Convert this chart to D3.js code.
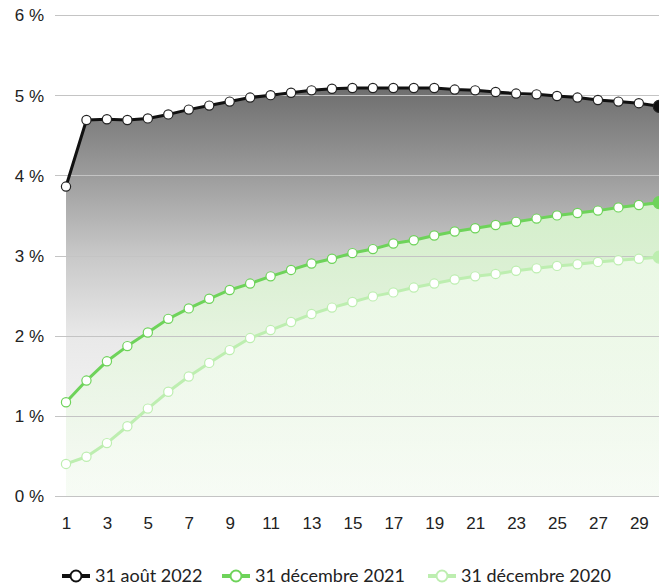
<!DOCTYPE html>
<html>
<head>
<meta charset="utf-8">
<script src="https://cdn.jsdelivr.net/npm/d3@7/dist/d3.min.js"></script>
<style>
  html, body { margin: 0; padding: 0; background: #fff; }
  svg { display: block; font-family: "Lato", "Noto Sans", sans-serif; }
</style>
</head>
<body>
<svg id="chart" width="659" height="585"></svg>
<script>
const maturities = d3.range(1, 31);
const xTickValues = [1,3,5,7,9,11,13,15,17,19,21,23,25,27,29];
const yTickValues = [0,1,2,3,4,5,6];
const seriesNames = ["31 août 2022", "31 décembre 2021", "31 décembre 2020"];
const aug2022 = [3.86,4.69,4.70,4.69,4.71,4.76,4.82,4.87,4.92,4.97,5.00,5.03,5.06,5.08,5.09,5.09,5.09,5.09,5.09,5.07,5.06,5.04,5.02,5.01,4.99,4.97,4.94,4.92,4.90,4.86];
const dec2021 = [1.17,1.44,1.68,1.87,2.04,2.21,2.34,2.46,2.57,2.65,2.74,2.82,2.90,2.96,3.03,3.08,3.15,3.19,3.25,3.30,3.34,3.38,3.42,3.46,3.50,3.53,3.56,3.60,3.63,3.66];
const dec2020 = [0.40,0.49,0.66,0.87,1.09,1.30,1.49,1.66,1.82,1.97,2.07,2.17,2.27,2.35,2.42,2.49,2.54,2.60,2.65,2.70,2.74,2.77,2.81,2.84,2.87,2.89,2.92,2.94,2.96,2.98];

const svg = d3.select("#chart");
const x = d3.scaleLinear().domain([1, 30]).range([66, 659.3]);
const y = d3.scaleLinear().domain([0, 6]).range([496, 15]);

const series = [
  { name: seriesNames[0], values: aug2022, line: "#111111", marker: "#222222", width: 3,
    stops: [[0, "#6e6e6e", 1], [0.2, "#999999", 1], [0.41, "#c8c8c8", 1], [0.61, "#e9e9e9", 1], [1, "#fbfbfb", 1]] },
  { name: seriesNames[1], values: dec2021, line: "#6ed35a", marker: "#6ed35a", width: 3,
    stops: [[0, "#d6f3cc", 0.95], [0.5, "#e6f7df", 0.8], [1, "#f4fbf1", 0.6]] },
  { name: seriesNames[2], values: dec2020, line: "#bdeeb0", marker: "#bdeeb0", width: 3,
    stops: [[0, "#ecf9e7", 0.9], [1, "#f7fcf5", 0.5]] }
];

const defs = svg.append("defs");
series.forEach((s, i) => {
  const top = y(d3.max(s.values));
  const g = defs.append("linearGradient").attr("id", "g" + i)
    .attr("gradientUnits", "userSpaceOnUse")
    .attr("x1", 0).attr("x2", 0).attr("y1", i === 0 ? 88 : top).attr("y2", 496);
  s.stops.forEach(st => g.append("stop").attr("offset", st[0]).attr("stop-color", st[1]).attr("stop-opacity", st[2]));
});

const area = d3.area().x((d, i) => x(maturities[i])).y0(y(0)).y1(d => y(d));
const line = d3.line().x((d, i) => x(maturities[i])).y(d => y(d));

// areas
series.forEach((s, i) => {
  svg.append("path").datum(s.values).attr("d", area).attr("fill", `url(#g${i})`);
});

// grid
const yAxis = d3.axisLeft(y).tickValues(yTickValues).tickSize(0).tickFormat(d => d + " %");
const yg = svg.append("g").attr("transform", "translate(47,0)").call(yAxis);
yg.select(".domain").remove();
yg.selectAll("text").attr("font-size", 17).attr("fill", "#222").attr("dy", "0.35em");
svg.append("g").selectAll("line").data(yTickValues).join("line")
  .attr("x1", 55).attr("x2", 659)
  .attr("y1", d => Math.round(y(d)) + 0.5).attr("y2", d => Math.round(y(d)) + 0.5)
  .attr("stroke", "#c4c4c4").attr("stroke-width", 1);

// x axis labels
const xAxis = d3.axisBottom(x).tickValues(xTickValues).tickSize(0).tickFormat(d3.format("d"));
const xg = svg.append("g").attr("transform", "translate(0,514)").call(xAxis);
xg.select(".domain").remove();
xg.selectAll("text").attr("font-size", 17).attr("fill", "#222");

// lines and markers (draw back to front)
[2, 1, 0].forEach(i => {
  const s = series[i];
  svg.append("path").datum(s.values).attr("d", line)
    .attr("fill", "none").attr("stroke", s.line).attr("stroke-width", s.width)
    .attr("stroke-linejoin", "round");
  svg.append("g").selectAll("circle").data(s.values).join("circle")
    .attr("cx", (d, j) => x(maturities[j])).attr("cy", d => y(d))
    .attr("r", (d, j) => j === s.values.length - 1 ? 6 : 4.6)
    .attr("fill", (d, j) => j === s.values.length - 1 ? s.line : "#fff")
    .attr("stroke", s.marker).attr("stroke-width", 1.2);
});

// legend
const legendX = [62, 222, 428];
const lg = svg.append("g");
series.forEach((s, i) => {
  const g = lg.append("g").attr("transform", `translate(${legendX[i]},576)`);
  g.append("line").attr("x1", 0).attr("x2", 28).attr("y1", 0).attr("y2", 0)
    .attr("stroke", s.line).attr("stroke-width", 4);
  g.append("circle").attr("cx", 14).attr("cy", 0).attr("r", 5.5)
    .attr("fill", "#fff").attr("stroke", s.line).attr("stroke-width", 2);
  g.append("text").attr("x", 33).attr("y", 0).attr("dy", "0.35em")
    .attr("font-size", 18).attr("fill", "#222").text(s.name);
});
</script>
</body>
</html>
